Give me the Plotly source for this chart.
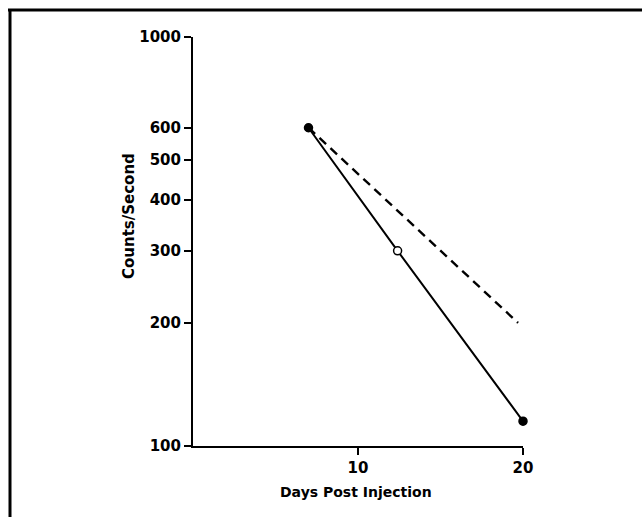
import plotly.graph_objects as go

# Data
days_solid = [7, 12.4, 20]
counts_solid = [600, 300, 115]
marker_fill = ["black", "white", "black"]

days_dashed = [7, 19.7]
counts_dashed = [600, 200]

x_ticks = [10, 20]
y_ticks = [100, 200, 300, 400, 500, 600, 1000]

x_title = "Days Post Injection"
y_title = "Counts/Second"

FONT = "DejaVu Sans, Verdana, sans-serif"

fig = go.Figure()
fig.add_trace(go.Scatter(
    x=days_dashed, y=counts_dashed, mode="lines",
    line=dict(color="black", width=2.4, dash="9px,6px"),
    cliponaxis=False, showlegend=False,
))
fig.add_trace(go.Scatter(
    x=days_solid, y=counts_solid, mode="lines+markers",
    line=dict(color="black", width=2),
    marker=dict(size=8, color=marker_fill, line=dict(color="black", width=1.5)),
    cliponaxis=False, showlegend=False,
))

L, R, T, B = 193, 523, 37, 446
W, H = 642, 517

tickfont = dict(family=FONT, size=15, color="black", weight="bold")

fig.update_layout(
    width=W, height=H,
    margin=dict(l=L, r=W - R, t=T, b=H - B, pad=0),
    paper_bgcolor="white", plot_bgcolor="white",
    font=dict(family=FONT, color="black", size=14),
    xaxis=dict(
        range=[0, 20], tickvals=x_ticks, ticktext=[str(v) for v in x_ticks],
        showline=True, linecolor="black", linewidth=2,
        ticks="outside", ticklen=7, tickwidth=2, tickcolor="black",
        showgrid=False, zeroline=False, tickfont=tickfont,
        automargin=False,
    ),
    yaxis=dict(
        type="log", range=[2, 3], tickvals=y_ticks,
        ticktext=[str(v) for v in y_ticks],
        showline=True, linecolor="black", linewidth=2,
        ticks="outside", ticklen=7, tickwidth=2, tickcolor="black",
        showgrid=False, zeroline=False, tickfont=tickfont,
        automargin=False,
    ),
)

def px_to_paper_x(px):
    return (px - L) / (R - L)

def px_to_paper_y(py):
    return (B - py) / (B - T)

# Axis titles
fig.add_annotation(text="<b>" + x_title + "</b>", xref="paper", yref="paper",
                   x=px_to_paper_x(356), y=px_to_paper_y(492),
                   xanchor="center", yanchor="middle", showarrow=False,
                   font=dict(family=FONT, size=14, color="black"))
fig.add_annotation(text="<b>" + y_title + "</b>", xref="paper", yref="paper",
                   x=px_to_paper_x(129), y=px_to_paper_y(216),
                   xanchor="center", yanchor="middle", showarrow=False,
                   textangle=-90,
                   font=dict(family=FONT, size=15, color="black"))

# Frame lines (top and left border of the figure)
fig.add_shape(type="line", xref="paper", yref="paper",
              x0=px_to_paper_x(8), x1=px_to_paper_x(642),
              y0=px_to_paper_y(10), y1=px_to_paper_y(10),
              line=dict(color="black", width=3))
fig.add_shape(type="line", xref="paper", yref="paper",
              x0=px_to_paper_x(10), x1=px_to_paper_x(10),
              y0=px_to_paper_y(9), y1=px_to_paper_y(517),
              line=dict(color="black", width=3))

fig.write_html("out.html",
               config={"displayModeBar": False},
               post_script="document.body.style.margin='0px';"
                           "document.body.style.overflow='hidden';")
